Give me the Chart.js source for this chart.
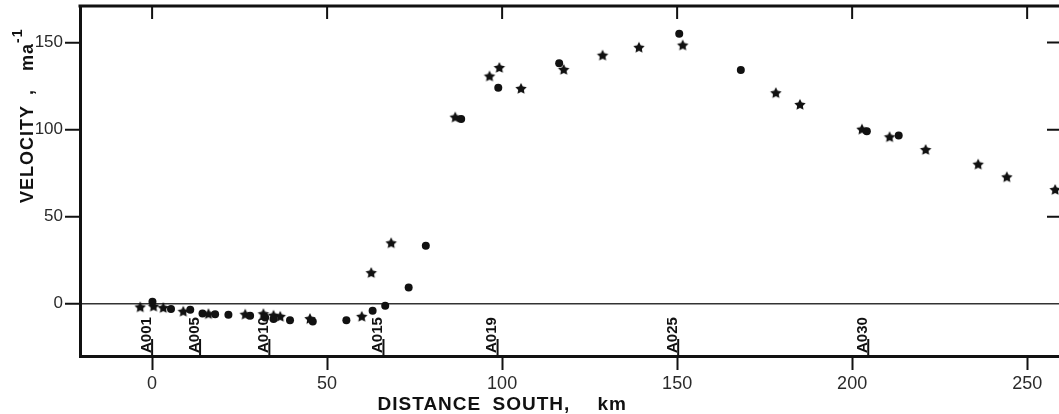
<!DOCTYPE html>
<html>
<head>
<meta charset="utf-8">
<script src="https://cdn.jsdelivr.net/npm/chart.js@4.4.1/dist/chart.umd.min.js"></script>
<style>
  html, body { margin: 0; padding: 0; background: #fff; overflow: hidden; }
  canvas { display: block; }
</style>
</head>
<body>
<canvas id="myChart" width="1059" height="414"></canvas>
<script>
// velocity profile, distance south (km) vs velocity (m/a)
const circleKm  = [0.1, 5.4, 10.9, 14.4, 18, 21.8, 28, 32.3, 34.7, 39.4, 45.9, 55.5, 63, 66.6, 73.3, 78.2,
                   88.3, 98.9, 116.3, 150.6, 168.2, 204.2, 213.3];
const circleVel = [1.1, -3, -3.4, -5.6, -6, -6.3, -6.9, -7.9, -8.8, -9.4, -10.2, -9.4, -4, -1.1, 9.4, 33.3,
                   106.1, 124, 138.1, 155, 134.3, 99, 96.6];

const starKm  = [-3.4, 0.4, 3.2, 8.9, 16.1, 26.6, 31.8, 34.7, 36.6, 45.1, 59.9, 62.6, 68.3,
                 86.6, 96.4, 99.2, 105.4, 117.6, 128.7, 139.1, 151.6, 178.2, 185.1, 202.8, 210.7, 221, 236, 244.2, 258];
const starVel = [-2.1, -1.7, -2.5, -4.6, -6, -6.3, -6, -6.9, -7.5, -8.8, -7.5, 17.6, 34.7,
                 106.9, 130.5, 135.4, 123.4, 134.3, 142.5, 147, 148.3, 120.9, 114.2, 100, 95.6, 88.3, 79.9, 72.6, 65.3];

const xTicks = [0, 50, 100, 150, 200, 250];
const yTicks = [0, 50, 100, 150];

const stationNames = ["A001", "A005", "A010", "A015", "A019", "A025", "A030"];
const stationKm    = [0, 13.7, 33.5, 66.1, 98.7, 150.3, 204.6];

const INK = "#111";
const FONT = "'Liberation Sans', Arial, sans-serif";

function makeStar(r) {
    const c = document.createElement("canvas");
    const s = Math.ceil(r * 2 + 2);
    c.width = s; c.height = s;
    const g = c.getContext("2d");
    g.fillStyle = INK;
    g.beginPath();
    for (let i = 0; i < 10; i++) {
        const a = -Math.PI / 2 + i * Math.PI / 5;
        const rad = i % 2 ? r * 0.5 : r;
        const px = s / 2 + rad * Math.cos(a), py = s / 2 + rad * Math.sin(a);
        if (i === 0) g.moveTo(px, py); else g.lineTo(px, py);
    }
    g.closePath();
    g.fill();
    return c;
}

const toPoints = (xs, ys) => xs.map((v, i) => ({ x: v, y: ys[i] }));

const frame = {
    id: "frame",
    afterDraw(chart) {
        const { ctx, chartArea: a, scales } = chart;
        const x = scales.x, y = scales.y;
        ctx.save();
        ctx.strokeStyle = INK;
        // top border (right border sits just off the picture)
        ctx.lineWidth = 3;
        ctx.beginPath();
        ctx.moveTo(a.left - 1.5, a.top);
        ctx.lineTo(a.right, a.top);
        ctx.stroke();
        // inward ticks on top and right
        ctx.lineWidth = 2;
        ctx.beginPath();
        xTicks.forEach(v => {
            const px = x.getPixelForValue(v);
            ctx.moveTo(px, a.top);
            ctx.lineTo(px, a.top + 13);
        });
        yTicks.filter(v => v > 0).forEach(v => {
            const py = y.getPixelForValue(v);
            ctx.moveTo(a.right, py);
            ctx.lineTo(a.right - 12, py);
        });
        ctx.stroke();

        // station markers
        ctx.fillStyle = INK;
        ctx.font = "bold 15px " + FONT;
        stationNames.forEach((name, i) => {
            const px = x.getPixelForValue(stationKm[i]);
            ctx.beginPath();
            ctx.moveTo(px, a.bottom);
            ctx.lineTo(px, a.bottom - 17);
            ctx.stroke();
            ctx.save();
            ctx.translate(px - 1.5, a.bottom - 3);
            ctx.rotate(-Math.PI / 2);
            ctx.textAlign = "left";
            ctx.textBaseline = "alphabetic";
            ctx.fillText(name, 0, 0);
            ctx.restore();
        });

        // x title
        ctx.font = "bold 19px " + FONT;
        ctx.textAlign = "left";
        ctx.textBaseline = "alphabetic";
        ctx.letterSpacing = "1px";
        const x0 = x.getPixelForValue(64.4);
        ctx.fillText("DISTANCE", x0, 410);
        ctx.fillText("SOUTH,", x0 + 115, 410);
        ctx.fillText("km", x0 + 220, 410);

        // y title
        ctx.save();
        ctx.translate(33, 203);
        ctx.rotate(-Math.PI / 2);
        ctx.font = "bold 18px " + FONT;
        ctx.fillText("VELOCITY", 0, 0);
        ctx.fillText(",", 108, 0);
        ctx.fillText("ma", 132, 0);
        ctx.font = "bold 14px " + FONT;
        ctx.fillText("-1", 160, -11);
        ctx.restore();

        ctx.restore();
    }
};

const ctx = document.getElementById("myChart").getContext("2d");
new Chart(ctx, {
    type: "scatter",
    data: {
        datasets: [{
            label: "circles",
            data: toPoints(circleKm, circleVel),
            pointStyle: "circle",
            pointRadius: 4,
            backgroundColor: INK,
            borderWidth: 0,
            clip: false
        }, {
            label: "stars",
            data: toPoints(starKm, starVel),
            pointStyle: makeStar(6),
            pointRadius: 6,
            backgroundColor: INK,
            clip: false
        }]
    },
    options: {
        responsive: false,
        animation: false,
        layout: { autoPadding: false, padding: { top: 6, right: 0, left: 0, bottom: 0 } },
        plugins: { legend: { display: false }, tooltip: { enabled: false } },
        scales: {
            x: {
                type: "linear",
                min: -20.6,
                max: 259.1,
                afterBuildTicks: s => { s.ticks = xTicks.map(v => ({ value: v })); },
                afterFit: s => { s.height = 58; s.paddingLeft = 0; s.paddingRight = 0; },
                ticks: {
                    autoSkip: false, maxRotation: 0, padding: 3,
                    color: "#2a2a2a",
                    font: { family: FONT, size: 18 }
                },
                grid: {
                    drawOnChartArea: false, drawTicks: true,
                    tickLength: 14, tickWidth: 2, tickColor: INK
                },
                border: { display: true, width: 3, color: INK }
            },
            y: {
                type: "linear",
                min: -30,
                max: 171,
                afterBuildTicks: s => { s.ticks = yTicks.map(v => ({ value: v })); },
                afterFit: s => { s.width = 80; s.paddingTop = 0; s.paddingBottom = 0; },
                ticks: {
                    padding: 2,
                    color: "#2a2a2a",
                    font: { family: FONT, size: 17 }
                },
                grid: {
                    drawOnChartArea: true,
                    color: c => (c.tick && c.tick.value === 0) ? "#333" : "rgba(0,0,0,0)",
                    lineWidth: 1.5,
                    tickLength: 15, tickWidth: 2, tickColor: INK
                },
                border: { display: true, width: 3, color: INK }
            }
        }
    },
    plugins: [frame]
});
</script>
</body>
</html>
